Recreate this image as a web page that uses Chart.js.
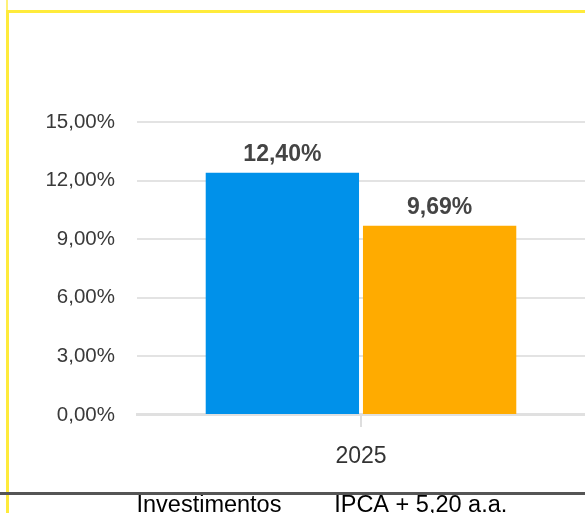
<!DOCTYPE html>
<html>
<head>
<meta charset="utf-8">
<script src="https://cdn.jsdelivr.net/npm/chart.js@4.4.1/dist/chart.umd.min.js"></script>
<style>
  html, body { margin: 0; padding: 0; background: #fff; overflow: hidden; }
  body { width: 585px; height: 513px; position: relative; }
  .frame { position: absolute; left: 6px; top: 10px; width: 600px; height: 520px;
           border-top: 3px solid #ffeb3b; border-left: 3px solid #ffeb3b; }
  .frame-top { position: absolute; left: 6px; top: 0; width: 2px; height: 10px; background: #fff176; }
  .chart-box { position: absolute; left: 0; top: 0; width: 600px; height: 527px; }
  .rule { position: absolute; left: 0; top: 492px; width: 585px; height: 3px; background: #555; z-index: 5; }
</style>
</head>
<body>
<div class="frame-top"></div>
<div class="frame"></div>
<div class="chart-box"><canvas id="chart"></canvas></div>
<div class="rule"></div>
<script>
// chart values
const categories = ['2025'];
const seriesNames = ['Investimentos', 'IPCA + 5,20 a.a.'];
const investimentos = [12.40];
const ipca = [9.69];
const seriesColors = ['#0091ea', '#ffab00'];
const yMax = 15;
const yStep = 3;

const fmtPct = v => v.toFixed(2).replace('.', ',') + '%';

// value labels on top of the bars
const valueLabels = {
    id: 'valueLabels',
    afterDatasetsDraw(chart) {
        const ctx = chart.ctx;
        ctx.save();
        ctx.font = 'bold 23px "Liberation Sans", Arial, sans-serif';
        ctx.fillStyle = '#444';
        ctx.textAlign = 'center';
        ctx.textBaseline = 'alphabetic';
        chart.data.datasets.forEach((ds, i) => {
            chart.getDatasetMeta(i).data.forEach((bar, j) => {
                ctx.fillText(fmtPct(ds.data[j]), bar.x, bar.y - 12);
            });
        });
        ctx.restore();
    }
};

const ctx = document.getElementById('chart').getContext('2d');
new Chart(ctx, {
    type: 'bar',
    data: {
        labels: categories,
        datasets: [
            { label: seriesNames[0], data: investimentos, backgroundColor: seriesColors[0] },
            { label: seriesNames[1], data: ipca, backgroundColor: seriesColors[1] }
        ]
    },
    options: {
        responsive: true,
        maintainAspectRatio: false,
        animation: false,
        categoryPercentage: 0.702,
        barPercentage: 0.975,
        layout: { padding: { top: 122, left: 13, right: 15, bottom: 0 } },
        plugins: {
            tooltip: { enabled: false },
            legend: {
                position: 'bottom',
                labels: {
                    boxWidth: 34,
                    padding: 7,
                    color: '#444',
                    font: { family: '"Liberation Sans", Arial, sans-serif', size: 23.5 },
                    generateLabels: chart => chart.data.datasets.map((ds, i) => ({
                        text: ds.label,
                        fillStyle: 'rgba(0,0,0,0)',
                        strokeStyle: 'rgba(0,0,0,0)',
                        lineWidth: 0,
                        datasetIndex: i,
                        hidden: false
                    }))
                }
            }
        },
        scales: {
            x: {
                grid: { offset: false, drawOnChartArea: false, drawTicks: true, tickLength: 12, color: '#dedede', lineWidth: 2 },
                border: { display: true, color: '#e0e0e0', width: 3 },
                ticks: { color: '#333', padding: 16, font: { family: '"Liberation Sans", Arial, sans-serif', size: 23 } }
            },
            y: {
                min: 0,
                max: yMax,
                afterFit: scale => { scale.width = 124; },
                grid: { drawTicks: false, color: '#e3e3e3', lineWidth: 2 },
                border: { display: false },
                ticks: {
                    stepSize: yStep,
                    padding: 22,
                    color: '#3a3a3a',
                    font: { family: '"Liberation Sans", Arial, sans-serif', size: 20.5 },
                    callback: v => fmtPct(v)
                }
            }
        }
    },
    plugins: [valueLabels]
});
</script>
</body>
</html>
